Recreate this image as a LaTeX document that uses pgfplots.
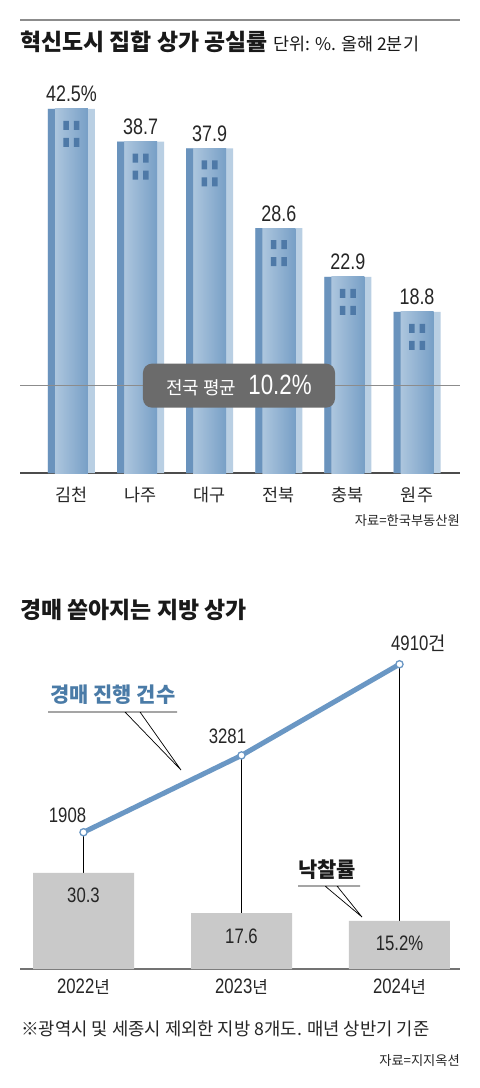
\documentclass[border=0pt]{standalone}
\usepackage{fontspec}
\setmainfont{Noto Sans CJK KR}
\newfontfamily\num[FakeStretch=0.8]{Liberation Sans}
\usepackage{pgfplots}
\usepackage{pgfplotstable}
\pgfplotsset{compat=1.18}

\definecolor{bstrip}{HTML}{6A93BD}
\definecolor{blight}{HTML}{ADC6DE}
\definecolor{bdark}{HTML}{779FC6}
\definecolor{bpale}{HTML}{B9CFE3}
\definecolor{bwin}{HTML}{4E79A7}
\definecolor{avgbox}{HTML}{6B6B6B}
\definecolor{lineblue}{HTML}{6A97C4}
\definecolor{bargrey}{HTML}{C9C9C9}
\definecolor{labblue}{HTML}{4A7BA7}

\newcommand\fs[1]{\fontsize{#1}{#1}\selectfont}

% four windows hanging below the top of each building
\pgfdeclareplotmark{windows}{%
  \pgfpathrectanglecorners{\pgfpoint{-8bp}{-21bp}}{\pgfpoint{-2.5bp}{-12bp}}%
  \pgfpathrectanglecorners{\pgfpoint{2.5bp}{-21bp}}{\pgfpoint{8bp}{-12bp}}%
  \pgfpathrectanglecorners{\pgfpoint{-8bp}{-38bp}}{\pgfpoint{-2.5bp}{-29bp}}%
  \pgfpathrectanglecorners{\pgfpoint{2.5bp}{-38bp}}{\pgfpoint{8bp}{-29bp}}%
  \pgfusepathqfill}

% vacancy rate, Q2
\pgfplotstableread{
x y lab
0 42.5 {42.5\%}
1 38.7 38.7
2 37.9 37.9
3 28.6 28.6
4 22.9 22.9
5 18.8 18.8
}\vacancy

% auction cases, H1
\pgfplotstableread{
x y lab dx dy
0 1908 {\num 1908} -16 10
1 3281 {\num 3281} -14 12
2 4910 {{\num 4910}{\fs{19}건}} 19 14
}\auction

% winning bid rate
\pgfplotstableread{
x y lab
0 30.3 30.3
1 17.6 17.6
2 15.2 {15.2\%}
}\winrate

\begin{document}
\begin{tikzpicture}
\fill[white] (0,0) rectangle (480bp,-1088bp);
\useasboundingbox (0,0) rectangle (480bp,-1088bp);

\draw[black!45, line width=2bp] (20bp,-19.5bp) -- (460bp,-19.5bp);
\node[anchor=base west, inner sep=0, text=black!90] at (20bp,-50bp)
  {\fs{23}\bfseries 혁신도시 집합 상가 공실률 \fs{17.5}\mdseries 단위: \%. 올해 2분기};

\begin{axis}[at={(20bp,-473bp)}, anchor=south west, scale only axis,
    width=440bp, height=428.25bp,
    xmin=-0.745, xmax=5.622, ymin=0, ymax=50, clip=false,
    axis x line=bottom, axis y line=none,
    axis line style={-, draw=black!70, line width=1.2bp},
    xtick={0,...,5}, xticklabels={김천,나주,대구,전북,충북,원주},
    major tick length=0pt, ytick=\empty,
    xticklabel style={font=\fs{17.5}, text=black!85, anchor=base, yshift=-28bp}]
  \addplot[ybar, bar width=47bp, bar shift=0bp, fill=bpale, draw=none,
    point meta=explicit symbolic, nodes near coords,
    every node near coord/.append style={anchor=base, yshift=7bp, font=\fs{22.5}\num, text=black!85}]
    table[x=x, y=y, meta=lab] \vacancy;
  % shaded body, one plot per building so each gets its own gradient
  \pgfplotsinvokeforeach{0,...,5}{
    \addplot[ybar, bar width=33bp, bar shift=0bp, left color=blight, right color=bdark, draw=none,
      restrict x to domain=#1:#1]
      table[x=x, y=y] \vacancy;
  }
  \addplot[ybar, bar width=7bp, bar shift=-20bp, fill=bstrip, draw=none]
    table[x=x, y=y] \vacancy;
  \addplot[only marks, mark=windows, mark options={fill=bwin, draw=none}]
    table[x=x, y=y] \vacancy;
  \addplot[black!45, line width=1bp] coordinates {(-0.745,10.2) (5.622,10.2)};
  \node[fill=avgbox, rounded corners=9bp, minimum width=192bp, minimum height=44bp,
    text=white, inner sep=0] at (axis cs:2.424,10.2)
    {\fs{18}전국 평균\hspace{12bp}{\num\fs{28}10.2\%}};
\end{axis}
\node[anchor=base east, inner sep=0, text=black!85] at (460bp,-525bp) {\fs{13.3}자료=한국부동산원};

\node[anchor=base west, inner sep=0, text=black!90] at (20bp,-618bp) {\fs{23}\bfseries 경매 쏟아지는 지방 상가};

\begin{axis}[at={(20bp,-939bp)}, anchor=south west, scale only axis,
    width=440bp, height=279.8bp,
    xmin=-0.402, xmax=2.383, ymin=0, ymax=5000, clip=false, hide axis]
  \addplot[ycomb, black, line width=0.7bp] table[x=x, y=y] \auction;
  \addplot[lineblue, line width=5bp, mark=*, mark size=3.6bp,
    mark options={fill=white, draw=lineblue, line width=1.3bp},
    point meta=explicit symbolic, nodes near coords,
    visualization depends on={\thisrow{dx} \as \dx},
    visualization depends on={\thisrow{dy} \as \dy},
    every node near coord/.append style={anchor=base, xshift=\dx*1bp, yshift=\dy*1bp,
      text=black!85, font=\fs{21}}]
    table[x=x, y=y, meta=lab] \auction;
\end{axis}

\begin{axis}[at={(20bp,-969bp)}, anchor=south west, scale only axis,
    width=440bp, height=126.8bp,
    xmin=-0.402, xmax=2.383, ymin=0, ymax=40, clip=false,
    axis x line=bottom, axis y line=none,
    axis line style={-, draw=black!55, line width=1.5bp},
    xtick={0,1,2},
    xticklabels={{{\num\fs{21}2022}\fs{17}년},{{\num\fs{21}2023}\fs{17}년},{{\num\fs{21}2024}\fs{17}년}},
    major tick length=0pt, ytick=\empty,
    xticklabel style={anchor=base, text=black!85, yshift=-24bp}]
  \addplot[ybar, bar width=101bp, bar shift=0bp, fill=bargrey, draw=none,
    point meta=explicit symbolic, nodes near coords,
    every node near coord/.append style={anchor=base, yshift=-30bp, font=\fs{21}\num, text=black!85}]
    table[x=x, y=y, meta=lab] \winrate;
\end{axis}

% callouts
\draw[line width=0.7bp] (48bp,-712bp) -- (177bp,-712bp)
  (125bp,-712bp) -- (181bp,-770bp) -- (140bp,-712bp);
\node[anchor=base west, inner sep=0, text=labblue] at (50bp,-702bp) {\fs{21}\bfseries 경매 진행 건수};
\draw[line width=0.7bp] (298bp,-886bp) -- (360bp,-886bp)
  (325bp,-886bp) -- (362bp,-917bp) -- (337bp,-886bp);
\node[anchor=base west, inner sep=0, text=black!90] at (298bp,-877bp) {\fs{21}\bfseries 낙찰률};

\node[anchor=base west, inner sep=0, text=black!85] at (21bp,-1035bp) {\fs{17.8}※광역시 및 세종시 제외한 지방 8개도. 매년 상반기 기준};
\node[anchor=base east, inner sep=0, text=black!85] at (460bp,-1065bp) {\fs{13.3}자료=지지옥션};
\end{tikzpicture}
\end{document}
